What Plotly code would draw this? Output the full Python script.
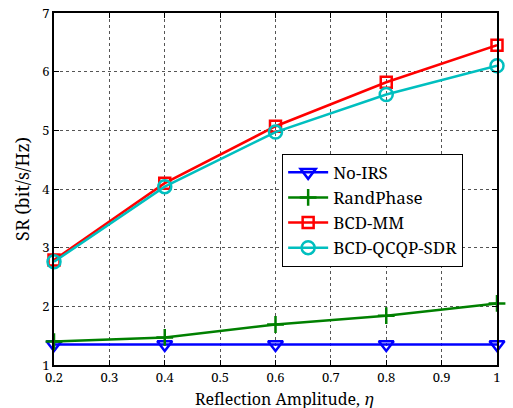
import plotly.graph_objects as go

eta = [0.2, 0.4, 0.6, 0.8, 1.0]
no_irs = [1.35, 1.35, 1.35, 1.35, 1.35]
rand_phase = [1.40, 1.47, 1.69, 1.84, 2.05]
bcd_mm = [2.79, 4.10, 5.07, 5.82, 6.45]
bcd_sdr = [2.76, 4.04, 4.97, 5.61, 6.10]

x_ticks = [0.2, 0.3, 0.4, 0.5, 0.6, 0.7, 0.8, 0.9, 1.0]
x_ticktext = ["0.2", "0.3", "0.4", "0.5", "0.6", "0.7", "0.8", "0.9", "1"]
y_ticks = [1, 2, 3, 4, 5, 6, 7]

FONT = "Noto Serif"

fig = go.Figure()
series = [
    ("No-IRS", no_irs, "#0000ff", "triangle-down-open", 13),
    ("RandPhase", rand_phase, "#008000", "cross-thin-open", 12),
    ("BCD-MM", bcd_mm, "#ff0000", "square-open", 11),
    ("BCD-QCQP-SDR", bcd_sdr, "#00bfbf", "circle-open", 13),
]
for name, ys, color, sym, size in series:
    fig.add_trace(go.Scatter(
        x=eta, y=ys, name=name, mode="lines+markers",
        line=dict(color=color, width=2.5),
        marker=dict(symbol=sym, size=size, color=color,
                    line=dict(color=color, width=2.5)),
        cliponaxis=False,
    ))

axis_common = dict(
    showline=True, linecolor="black", linewidth=1.5, mirror="ticks",
    ticks="inside", ticklen=5, tickcolor="black",
    showgrid=True, gridcolor="#555555", griddash="dot", gridwidth=1,
    zeroline=False, automargin=False,
    tickfont=dict(family=FONT, size=13, color="black"),
)

fig.update_xaxes(range=[0.2, 1.0], tickvals=x_ticks, ticktext=x_ticktext,
                 **axis_common)
fig.update_yaxes(range=[1, 7], tickvals=y_ticks,
                 title=dict(text="SR (bit/s/Hz)", standoff=8,
                            font=dict(family=FONT, size=18, color="black")),
                 **axis_common)

fig.add_annotation(text="Reflection Amplitude, <i>η</i>", xref="paper", yref="paper",
                   x=0.52, y=-0.097, xanchor="center", yanchor="middle",
                   showarrow=False, font=dict(family=FONT, size=16, color="black"))

fig.update_layout(
    width=513, height=408,
    margin=dict(l=54, r=16, t=13, b=43, autoexpand=False),
    paper_bgcolor="white", plot_bgcolor="white",
    font=dict(family=FONT, size=14, color="black"),
    legend=dict(x=0.515, y=0.60, xanchor="left", yanchor="top",
                bgcolor="white", bordercolor="black", borderwidth=1,
                font=dict(family=FONT, size=17, color="black"),
                tracegroupgap=0, itemwidth=40),
    showlegend=True,
)

fig.write_html("out.html", config={"displayModeBar": False},
               post_script="document.body.style.margin='0';document.body.style.padding='0';")
